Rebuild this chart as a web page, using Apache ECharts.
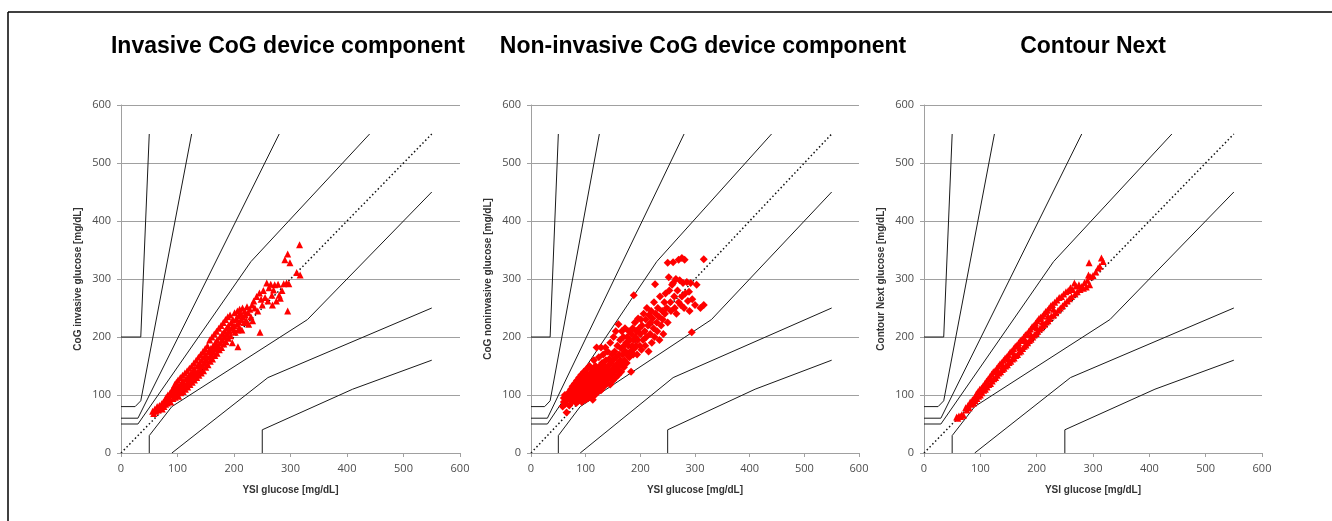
<!DOCTYPE html>
<html><head><meta charset="utf-8">
<script src="https://cdn.jsdelivr.net/npm/echarts@6/dist/echarts.min.js"></script>
<style>html,body{margin:0;padding:0;background:#fff;overflow:hidden}#c{width:1332px;height:521px}</style>
</head><body><div id="c"></div>
<script>
// ---- text ----
const titles = ['Invasive CoG device component', 'Non-invasive CoG device component', 'Contour Next'];
const yNames = ['CoG invasive glucose [mg/dL]', 'CoG noninvasive glucose [mg/dL]', 'Contour Next glucose [mg/dL]'];
const xName = 'YSI glucose [mg/dL]';
const axisMin = 0, axisMax = 600, axisStep = 100;

// ---- error grid zone boundaries (mg/dL) ----
const zoneAUpper = [[0,50],[30,50],[230,330],[440,550]];
const zoneALower = [[50,0],[50,30],[90,80],[330,230],[550,450]];
const zoneBUpper = [[0,60],[30,60],[280,550]];
const zoneBLower = [[90,0],[260,130],[550,250]];
const zoneCUpper = [[0,80],[25,80],[35,90],[125,550]];
const zoneCLower = [[250,0],[250,40],[410,110],[550,160]];
const zoneDUpper = [[0,200],[35,200],[50,550]];
const identity = [[0,0],[550,550]];

// ---- measured points [YSI, device] ----
const invasivePts = [
[56,72],[58,68],[60,76],[62,72],[64,80],[66,74],[68,82],[70,78],[72,85],[73,76],
[75,88],[76,80],[78,92],[79,84],[80,96],[82,86],[83,100],[84,90],[86,95],[87,104],[88,88],[90,100],[90,108],
[92,94],[93,112],[94,102],[95,118],[96,96],[97,108],[98,122],[99,102],[100,112],[101,126],[102,98],[103,116],[104,108],[105,130],[106,104],[107,120],[108,112],[109,134],[110,106],[110,124],
[112,116],[113,138],[114,110],[115,128],[116,120],[117,142],[118,114],[119,132],[120,124],[121,146],[122,118],[123,136],[124,128],[125,150],[126,122],[127,140],[128,132],[129,155],[130,126],[130,145],
[132,136],[133,160],[134,130],[135,150],[136,140],[137,165],[138,134],[139,155],[140,145],[141,170],[142,138],[143,160],[144,150],[145,175],[146,142],[147,165],[148,155],[149,180],[150,148],[150,170],
[152,160],[153,185],[154,152],[155,175],[156,165],[157,195],[158,158],[159,180],[160,170],[161,200],[162,162],[163,185],[164,175],[165,205],[166,168],[167,190],[168,180],[169,210],[170,172],[170,195],
[172,185],[173,215],[174,178],[175,200],[176,190],[177,220],[178,182],[179,205],[180,195],[181,225],[182,188],[183,210],[184,200],[185,230],[186,192],[187,215],[188,205],[189,235],[190,198],[190,220],
[192,210],[193,238],[194,202],[195,225],[196,215],[197,190],[198,230],[200,220],[201,242],[202,208],[204,232],[205,222],[206,245],[207,212],[207,183],[208,236],[209,226],[210,248],[210,216],
[212,240],[213,230],[214,212],[215,250],[216,235],[218,225],[219,245],[220,238],[222,228],[223,252],[225,242],[226,222],[228,248],[230,235],[232,255],[233,228],
[235,262],[237,250],[240,270],[242,245],[245,276],[246,208],[248,265],[250,255],[252,280],[255,268],[258,293],[260,262],[262,285],[265,291],[267,272],[268,255],[270,281],[272,290],[275,262],[278,291],[280,272],[282,267],[285,280],[288,292],[290,333],[293,293],[295,245],[295,343],[297,292],[299,328],[311,311],[316,359],[317,307],
[100,108],[110,115],[120,130],[130,138],[140,152],[150,160],[160,178],[170,185],[180,205],[190,210],[200,212]
];
const noninvasivePts = [
[58,80],[60,95],[60,88],[62,100],[63,85],[65,70],[66,92],[68,98],[70,82],[70,105],[72,92],[73,110],[75,88],[75,100],[76,115],[78,95],[78,105],[80,90],[80,120],[81,100],[82,110],[83,86],[84,125],[85,96],[85,105],[86,115],[87,90],[88,130],[88,100],[89,108],[90,120],[90,95],[91,112],[92,135],[92,102],[93,88],[94,118],[95,108],[95,126],[96,98],[97,140],[97,115],[98,105],[99,122],[100,92],[100,112],[100,130],[101,118],[102,100],[102,145],[103,125],[104,108],[104,135],[105,95],[105,115],[106,122],[107,150],[107,102],[108,128],[108,112],[109,138],[110,98],[110,118],[110,125],[111,108],[111,145],[112,132],[112,115],[113,92],[113,122],[114,140],[114,105],[115,128],[115,160],[116,112],[116,135],[117,120],[117,100],[118,150],[118,125],[119,110],[120,138],[120,118],[120,182],[121,130],[122,105],[122,145],[123,122],[124,165],[124,112],[125,135],[125,128],[126,150],[127,118],[127,140],[128,108],[128,182],[129,130],[130,155],[130,120],[131,145],[132,125],[132,170],[133,138],[134,115],[135,150],[135,132],[136,182],[137,128],[137,160],[138,142],[139,120],[140,135],[140,175],[141,150],[142,128],[143,162],[144,140],[145,190],[145,118],[146,155],[147,135],[148,170],[149,145],[150,125],[150,160],[151,200],[152,140],[153,175],[154,150],[155,130],[155,210],[156,165],[157,145],[158,185],[159,155],[160,135],[160,222],[161,170],[162,150],[163,195],[164,160],[165,140],[165,180],[166,210],[167,155],[168,170],[169,200],[170,148],[170,185],[171,160],[172,215],[173,175],[174,190],[175,155],[176,200],[177,168],[178,185],[179,210],[180,165],[181,195],[182,175],[183,140],[184,205],[185,185],[186,215],[187,170],[188,195],[188,272],[189,180],[190,225],[191,200],[192,185],[193,210],[194,170],[195,195],[196,232],[198,215],[199,185],[200,205],[201,230],[202,178],[203,220],[205,195],[206,240],[208,210],[209,185],[210,230],[211,200],[212,250],[214,220],[215,175],[216,238],[218,205],[219,225],[220,245],[221,190],[222,232],[224,215],[225,260],[226,200],[227,291],[228,240],[230,225],[231,210],[232,250],[234,235],[235,195],[236,270],[238,220],[240,245],[241,230],[242,205],[244,260],[245,240],[246,275],[248,250],[250,328],[250,225],[252,303],[253,280],[255,260],[256,245],[258,290],[260,329],[260,293],[262,270],[263,250],[265,300],[266,240],[268,280],[270,333],[270,260],[272,298],[274,255],[276,336],[276,270],[278,293],[280,250],[281,333],[282,275],[285,295],[287,262],[289,278],[290,245],[292,293],[294,208],[295,265],[300,255],[303,290],[310,250],[316,334],[316,255]
];
const contourPts = [
[58,62],[60,60],[62,64],[65,63],[67,66],[70,65],[74,78],[76,74],[78,82],[80,78],[82,88],[84,84],[86,92],[88,86],[90,96],[91,90],[93,102],[94,94],[96,106],[97,98],[99,110],[100,100],[102,112],[103,104],[105,116],[106,108],[108,120],[109,110],[111,124],[112,114],[114,128],[115,118],[117,132],[118,120],[120,136],[121,124],[123,140],[124,128],[126,142],[127,130],[129,146],[130,134],[132,150],[133,138],[135,154],[136,140],[138,156],[139,144],[141,160],[142,146],[144,164],[145,150],[147,166],[148,152],[150,170],[151,156],[153,174],[154,158],[156,176],[157,162],[159,180],[160,164],[162,184],[163,168],[165,186],[166,170],[168,190],[169,174],[171,194],[172,176],[174,196],[175,180],[177,200],[178,184],[180,204],[181,186],[183,206],[184,190],[186,210],[187,194],[189,214],[190,196],[192,218],[193,200],[195,220],[196,204],[198,224],[199,206],[201,228],[202,210],[204,232],[205,214],[207,234],[208,216],[210,236],[211,220],[213,240],[214,222],[216,244],[217,226],[219,246],[220,228],[222,250],[223,232],[225,254],[226,236],[228,256],[230,238],[232,260],[234,242],[236,264],[238,246],[240,268],[242,250],[244,270],[246,254],[248,274],[250,258],[252,278],[254,262],[256,280],[258,266],[260,285],[262,270],[264,282],[267,293],[268,274],[270,288],[272,278],[275,290],[277,282],[280,287],[283,284],[285,294],[288,286],[290,298],[292,307],[293,328],[294,290],[296,304],[300,306],[305,312],[309,319],[312,322],[315,336],[318,330],
[100,106],[110,116],[120,128],[130,140],[140,150],[150,162],[160,170],[170,182],[180,194],[190,204],[200,216],[210,226],[220,236],[230,248]
];

const panelPoints = [invasivePts, noninvasivePts, contourPts];
const panelSymbols = ['triangle', 'diamond', 'triangle'];
const zones = [zoneAUpper, zoneALower, zoneBUpper, zoneBLower, zoneCUpper, zoneCLower, zoneDUpper];

// ---- layout ----
const grids = [
  {left: 121, top: 105, width: 339, height: 348},
  {left: 531, top: 105, width: 328, height: 348},
  {left: 924, top: 105, width: 338, height: 348}
];
const titleCenters = [283, 698, 1088];

const chart = echarts.init(document.getElementById('c'), null, {renderer: 'canvas'});
const gray = '#a0a0a0';
const labelColor = '#4d4d4d';
const option = {
  animation: false,
  backgroundColor: '#fff',
  title: titles.map((t, i) => ({
    text: t, left: titleCenters[i], top: 30, textAlign: 'center',
    textStyle: {fontFamily: 'Liberation Sans, Arial, sans-serif', fontWeight: 'bold', fontSize: 23, color: '#000'}
  })),
  grid: grids.map(g => Object.assign({outerBoundsMode: 'none', containLabel: false}, g)),
  xAxis: grids.map((g, i) => ({
    type: 'value', gridIndex: i, min: axisMin, max: axisMax, interval: axisStep,
    name: xName, nameLocation: 'middle', nameGap: 32,
    nameTextStyle: {fontFamily: 'Liberation Sans, Arial, sans-serif', fontWeight: 'bold', fontSize: 10, color: '#333'},
    axisLine: {show: true, lineStyle: {color: gray, width: 1}},
    axisTick: {show: true, length: 4, lineStyle: {color: gray}},
    axisLabel: {margin: 10, color: labelColor, fontSize: 11, fontFamily: 'Open Sans, sans-serif'},
    splitLine: {show: false}
  })),
  yAxis: grids.map((g, i) => ({
    type: 'value', gridIndex: i, min: axisMin, max: axisMax, interval: axisStep,
    name: yNames[i], nameLocation: 'middle', nameGap: 38, nameRotate: 90,
    nameTextStyle: {fontFamily: 'Liberation Sans, Arial, sans-serif', fontWeight: 'bold', fontSize: 10, color: '#333'},
    axisLine: {show: true, lineStyle: {color: gray, width: 1}},
    axisTick: {show: true, length: 4, lineStyle: {color: gray}},
    axisLabel: {margin: 10, color: labelColor, fontSize: 11, fontFamily: 'Open Sans, sans-serif'},
    splitLine: {show: true, lineStyle: {color: gray, width: 1}}
  })),
  graphic: [
    {type: 'line', shape: {x1: 8, y1: 12, x2: 1332, y2: 12}, style: {stroke: '#000', lineWidth: 1.5}, silent: true},
    {type: 'line', shape: {x1: 8, y1: 12, x2: 8, y2: 521}, style: {stroke: '#000', lineWidth: 1.5}, silent: true}
  ],
  series: []
};
for (let i = 0; i < 3; i++) {
  zones.forEach(z => option.series.push({
    type: 'line', xAxisIndex: i, yAxisIndex: i, data: z, showSymbol: false, symbol: 'none',
    lineStyle: {color: '#1a1a1a', width: 1}, silent: true, z: 2
  }));
  option.series.push({
    type: 'line', xAxisIndex: i, yAxisIndex: i, data: identity, showSymbol: false, symbol: 'none',
    lineStyle: {color: '#111', width: 1.5, type: [1.5, 2.5]}, silent: true, z: 2
  });
  option.series.push({
    type: 'scatter', xAxisIndex: i, yAxisIndex: i, data: panelPoints[i],
    symbol: panelSymbols[i], symbolSize: panelSymbols[i] === 'diamond' ? 8 : 7,
    itemStyle: {color: '#ff0000', opacity: 1}, z: 5, silent: true
  });
}
chart.setOption(option);
</script>
</body></html>
